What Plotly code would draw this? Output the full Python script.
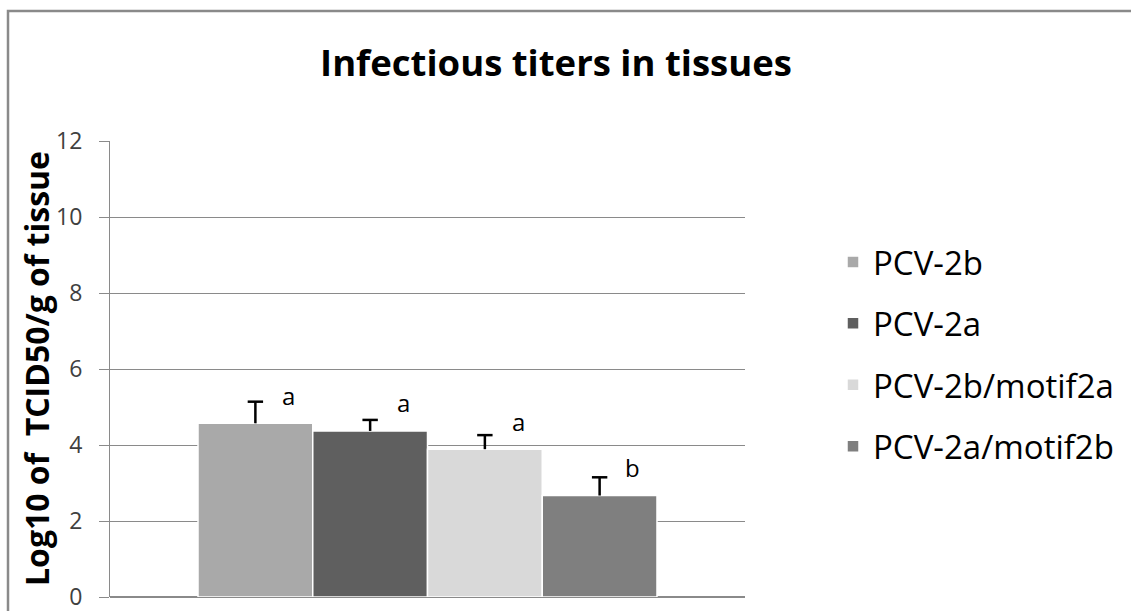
import plotly.graph_objects as go

series = ["PCV-2b", "PCV-2a", "PCV-2b/motif2a", "PCV-2a/motif2b"]
values = [4.57, 4.37, 3.89, 2.67]
errors = [0.57, 0.29, 0.37, 0.48]
letters = ["a", "a", "a", "b"]
colors = ["#A9A9A9", "#5F5F5F", "#D9D9D9", "#7F7F7F"]
y_ticks = [0, 2, 4, 6, 8, 10, 12]

FONT = "Open Sans"

fig = go.Figure()
for i, (name, v, c) in enumerate(zip(series, values, colors)):
    fig.add_trace(go.Bar(
        x=[i], y=[v], width=[1], name=name,
        legendgroup=name,
        marker=dict(color=c, line=dict(color="white", width=1.5)),
    ))

# plus-only error bars (stem + top cap), drawn from the data
ex, ey = [], []
for i, (v, e) in enumerate(zip(values, errors)):
    ex += [i, i, None]
    ey += [v, v + e, None]
fig.add_trace(go.Scatter(x=ex, y=ey, mode="lines", line=dict(color="black", width=2.5),
                         showlegend=False, hoverinfo="skip"))
fig.add_trace(go.Scatter(x=list(range(len(values))), y=[v + e for v, e in zip(values, errors)],
                         mode="markers", showlegend=False, hoverinfo="skip",
                         marker=dict(symbol="line-ew", size=11, color="black",
                                     line=dict(color="black", width=2.5))))

for i, v in enumerate(values):
    fig.add_annotation(x=i + 0.29, y=v + 0.74, text=letters[i], showarrow=False,
                       xref="x", yref="y", yanchor="middle",
                       font=dict(family=FONT, size=24, color="black"))

W, H = 1131, 611
L, R, T, B = 110, 745, 141, 597

# y-axis title as rotated annotation
fig.add_annotation(x=(36 - L) / (R - L), y=0.5, xref="paper", yref="paper",
                   text="<b>Log10 of  TCID50/g of tissue</b>", textangle=-90,
                   showarrow=False, xanchor="center", yanchor="middle",
                   font=dict(family=FONT, size=32, color="black"))

fig.update_layout(
    width=W, height=H,
    margin=dict(l=L, r=W - R, t=T, b=H - B, pad=0, autoexpand=False),
    paper_bgcolor="white", plot_bgcolor="white",
    barmode="overlay",
    showlegend=True,
    title=dict(text="<b>Infectious titers in tissues</b>", x=556 / W, xanchor="center",
               y=1 - 63 / H, yanchor="middle",
               font=dict(family=FONT, size=36.5, color="black")),
    legend=dict(x=(833 - L) / (R - L), xanchor="left", y=(B - 234) / (B - T), yanchor="top",
                font=dict(family=FONT, size=33, color="black"),
                tracegroupgap=15.5, bgcolor="rgba(0,0,0,0)"),
    xaxis=dict(range=[-1.267, 4.267], showgrid=False, showticklabels=False,
               zeroline=False, showline=False, fixedrange=True),
    yaxis=dict(range=[0, 12], tickvals=y_ticks, ticktext=[str(t) for t in y_ticks],
               automargin=False, ticklabeloverflow="allow",
               showgrid=True, gridcolor="#8A8A8A", gridwidth=1,
               zeroline=True, zerolinecolor="#8A8A8A", zerolinewidth=1.5,
               showline=True, linecolor="#8A8A8A", linewidth=1,
               ticks="outside", ticklen=10, tickcolor="#8A8A8A",
               ticklabelstandoff=12,
               tickfont=dict(family=FONT, size=23, color="#404040")),
    shapes=[dict(type="rect", xref="paper", yref="paper",
                 x0=(8 - L) / (R - L), x1=(1150 - L) / (R - L),
                 y0=(B - 630) / (B - T), y1=(B - 11) / (B - T),
                 line=dict(color="#8A8A8A", width=2.5), fillcolor="rgba(0,0,0,0)", layer="below")],
)

fig.write_html("out.html", config={"displayModeBar": False},
               post_script="document.body.style.margin='0';")
